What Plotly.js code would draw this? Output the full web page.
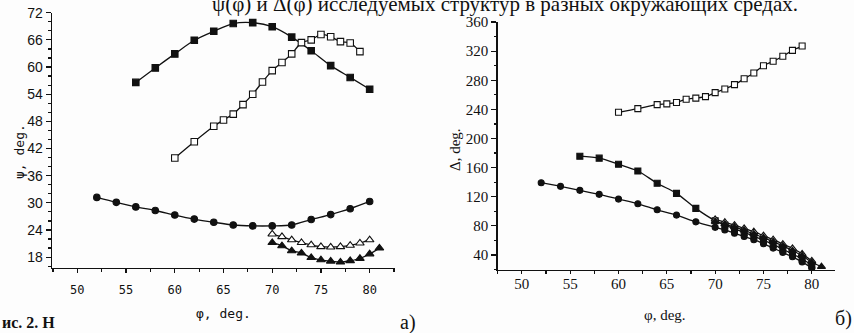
<!DOCTYPE html>
<html><head><meta charset="utf-8">
<script src="https://cdn.plot.ly/plotly-3.0.1.min.js"></script>
<style>html,body{margin:0;padding:0;background:#fdfdfd}#c{width:854px;height:333px}</style>
</head><body><div id="c"></div>
<script>
// ---- Data: panel a) psi(phi) ----
const psiFsqX = [56,58,60,62,64,66,68,70,72,74,76,78,80];
const psiFsq  = [56.6,59.8,62.9,65.9,67.9,69.6,69.8,68.9,66.6,63.6,60.3,57.7,55.1];
const psiOsqX = [60,62,64,65,66,67,68,69,70,71,72,73,74,75,76,77,78,79];
const psiOsq  = [39.9,43.5,46.9,48.3,49.6,51.7,54.0,56.7,59.2,61.0,62.9,65.4,66.0,67.2,66.7,65.6,65.3,63.4];
const psiCircX = [52,54,56,58,60,62,64,66,68,70,72,74,76,78,80];
const psiCirc  = [31.2,30.1,29.1,28.3,27.3,26.4,25.7,25.1,24.9,24.9,25.1,26.3,27.4,28.7,30.3];
const psiOtriX = [70,71,72,73,74,75,76,77,78,79,80];
const psiOtri  = [23.1,22.5,21.8,21.2,20.7,20.3,20.2,20.3,20.6,21.1,21.8];
const psiFtriX = [70,71,72,73,74,75,76,77,78,79,80,81];
const psiFtri  = [21.2,20.5,19.4,18.9,17.9,17.4,17.1,16.9,17.2,17.7,18.7,20.0];

// ---- Data: panel б) Delta(phi) ----
const dOsqX = [60,62,64,65,66,67,68,69,70,71,72,73,74,75,76,77,78,79];
const dOsq  = [236,241,246.5,247.5,249.5,254,255.5,257.5,263,268,274,282,290,300,306,313,321,327];
const dFsqX = [56,58,60,62,64,66,68,70,71,72,73,74,75,76,77,78,79,80];
const dFsq  = [175.7,173,164.7,155.4,138.5,124.7,104,87,81,76,71,66,60.5,54.5,48,41.5,34.5,26];
const dCircX = [52,54,56,58,60,62,64,66,68,70,71,72,73,74,75,76,77,78,79,80];
const dCirc  = [139.3,134.3,128.8,123.3,116.8,110.3,102.1,94.8,85.5,78,74.5,70,65.5,61,55.5,49.5,43.5,37.5,30.5,22];
const dOtriX = [70,71,72,73,74,75,76,77,78,79,80];
const dOtri  = [89,85,81,76.5,72,66.5,61,55,49,41.5,32];
const dFtriX = [70,71,72,73,74,75,76,77,78,79,80,81];
const dFtri  = [86,82.5,78.5,74,69,64,58.5,52.5,46,39,30,24];

const leftTicksY = [18,24,30,36,42,48,54,60,66,72];
const xTicks = [50,55,60,65,70,75,80];
const rightTicksY = [40,80,120,160,200,240,280,320,360];

// ---- layout helpers (pixel -> paper) ----
const W = 854, H = 333;
const px = v => v / W;
const py = v => 1 - v / H;
const K = '#111';

function tr(x, y, sym, filled, xa, ya, sz, shape) {
  return {
    x: x, y: y, xaxis: xa, yaxis: ya, type: 'scatter', mode: 'lines+markers',
    line: {color: K, width: 1.3, shape: shape, smoothing: 0.8},
    marker: {symbol: sym, size: sz, color: filled ? K : '#fff', line: {color: K, width: 1.1}},
    hoverinfo: 'skip', showlegend: false
  };
}

const data = [
  tr(psiFsqX, psiFsq, 'square', true, 'x', 'y', 6.5, 'spline'),
  tr(psiOsqX, psiOsq, 'square', false, 'x', 'y', 6.5, 'spline'),
  tr(psiCircX, psiCirc, 'circle', true, 'x', 'y', 6.5, 'spline'),
  tr(psiOtriX, psiOtri, 'triangle-up', false, 'x', 'y', 7.5, 'spline'),
  tr(psiFtriX, psiFtri, 'triangle-up', true, 'x', 'y', 7.5, 'spline'),
  tr(dOsqX, dOsq, 'square', false, 'x2', 'y2', 6, 'spline'),
  tr(dFsqX, dFsq, 'square', true, 'x2', 'y2', 6, 'spline'),
  tr(dCircX, dCirc, 'circle', true, 'x2', 'y2', 6, 'spline'),
  tr(dOtriX, dOtri, 'triangle-up', false, 'x2', 'y2', 7, 'spline'),
  tr(dFtriX, dFtri, 'triangle-up', true, 'x2', 'y2', 7, 'spline')
];

const axBase = {showgrid: false, zeroline: false, showline: true, linecolor: K, linewidth: 1.4,
  ticks: 'outside', tickcolor: K, tickwidth: 1.2, fixedrange: true};

const monoFont = {family: 'DejaVu Sans Mono, Liberation Mono, monospace', size: 12, color: K};
const monoTitle = {family: 'DejaVu Sans Mono, Liberation Mono, monospace', size: 13, color: K};
const sansFont = {family: 'Liberation Sans, Arial, sans-serif', size: 14, color: K};
const serifFont = {family: 'Liberation Serif, Times New Roman, serif', size: 15, color: K};

const layout = {
  width: W, height: H, margin: {l: 0, r: 0, t: 0, b: 0},
  paper_bgcolor: '#fdfdfd', plot_bgcolor: 'rgba(0,0,0,0)',
  xaxis: Object.assign({}, axBase, {domain: [px(52), px(395)], range: [47.4, 82.6], anchor: 'y',
    tickvals: xTicks, ticktext: xTicks.map(String), ticklen: 4, tickfont: monoFont, ticklabelstandoff: 6,
    minor: {dtick: 2.5, tick0: 50, ticks: 'outside', ticklen: 3, tickcolor: K}}),
  yaxis: Object.assign({}, axBase, {domain: [py(268), py(12.7)], range: [15.6, 72], anchor: 'x',
    tickvals: leftTicksY, ticktext: leftTicksY.map(String), ticklen: 5, tickfont: sansFont,
    minor: {dtick: 2, tick0: 18, ticks: 'outside', ticklen: 2.5, tickcolor: K}}),
  xaxis2: Object.assign({}, axBase, {domain: [px(497.7), px(835)], range: [47.5, 82.4], anchor: 'y2',
    tickvals: xTicks, ticktext: xTicks.map(String), ticklen: 3, tickfont: serifFont, ticklabelstandoff: -3,
    minor: {dtick: 2.5, tick0: 50, ticks: 'outside', ticklen: 2.5, tickcolor: K}}),
  yaxis2: Object.assign({}, axBase, {domain: [py(270), py(22)], range: [19.4, 360], anchor: 'x2',
    tickvals: rightTicksY, ticktext: rightTicksY.map(String), ticklen: 5, tickfont: serifFont,
    minor: {dtick: 20, tick0: 0, ticks: 'outside', ticklen: 2.5, tickcolor: K}}),
  annotations: [
    {text: 'ψ(φ) и Δ(φ) исследуемых структур в разных окружающих средах.', xref: 'paper', yref: 'paper',
      x: px(800), y: py(4), xanchor: 'right', yanchor: 'middle', showarrow: false,
      font: {family: 'Liberation Serif, serif', size: 21, color: K}},
    {text: 'ψ, deg.', xref: 'paper', yref: 'paper', x: px(20), y: py(152), textangle: -90,
      xanchor: 'center', yanchor: 'middle', showarrow: false, font: monoTitle},
    {text: 'φ, deg.', xref: 'paper', yref: 'paper', x: px(223), y: py(313),
      xanchor: 'center', yanchor: 'middle', showarrow: false, font: monoTitle},
    {text: 'Δ, deg.', xref: 'paper', yref: 'paper', x: px(455), y: py(150), textangle: -90,
      xanchor: 'center', yanchor: 'middle', showarrow: false, font: serifFont},
    {text: 'φ, deg.', xref: 'paper', yref: 'paper', x: px(665), y: py(315),
      xanchor: 'center', yanchor: 'middle', showarrow: false, font: serifFont},
    {text: 'а)', xref: 'paper', yref: 'paper', x: px(408), y: py(322),
      xanchor: 'center', yanchor: 'middle', showarrow: false, font: {family: 'Liberation Serif, serif', size: 20, color: K}},
    {text: 'б)', xref: 'paper', yref: 'paper', x: px(843), y: py(318),
      xanchor: 'center', yanchor: 'middle', showarrow: false, font: {family: 'Liberation Serif, serif', size: 20, color: K}},
    {text: '<b>ис. 2. Н</b>', xref: 'paper', yref: 'paper', x: px(0), y: py(322),
      xanchor: 'left', yanchor: 'middle', showarrow: false, font: {family: 'Liberation Serif, serif', size: 16, color: K}}
  ]
};

Plotly.newPlot('c', data, layout, {staticPlot: true, displayModeBar: false});
</script></body></html>
